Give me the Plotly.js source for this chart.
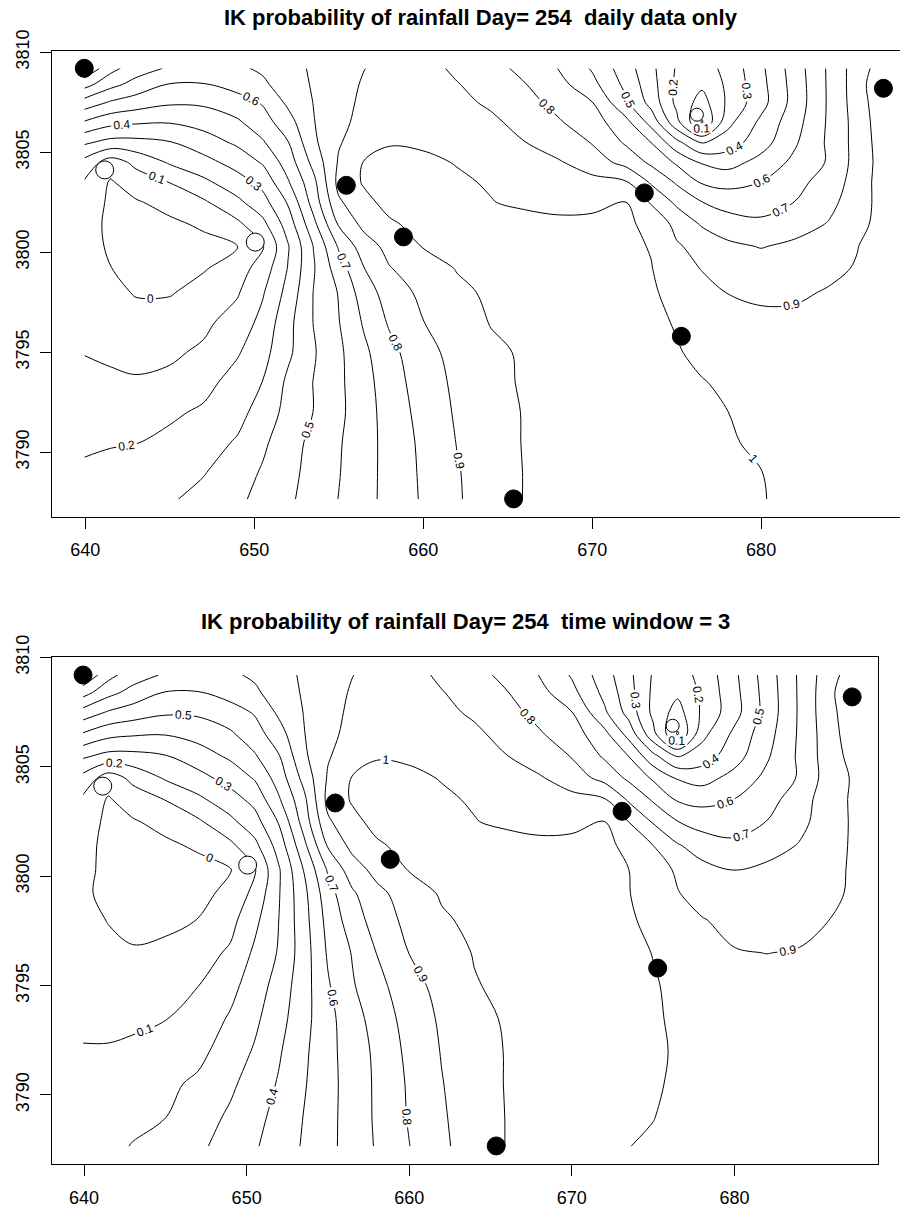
<!DOCTYPE html>
<html>
<head>
<meta charset="utf-8">
<script src="https://cdn.plot.ly/plotly-3.0.1.min.js"></script>
<style>html,body{margin:0;padding:0;background:#fff;}#chart{width:900px;height:1211px;}</style>
</head>
<body>
<div id="chart"></div>
<script>
// ---- grid coordinates (km) ----
const xGrid = [639.94, 641.5, 643, 645, 647, 649, 650.5, 652, 653.5, 655, 656.5, 658, 660, 662, 664, 666, 668, 670, 672, 673.5, 675, 676.5, 678, 680, 682, 684, 685.7, 687.24];
const yGrid = [3787.65, 3789, 3790.5, 3792, 3793.5, 3795, 3796.5, 3798, 3799.2, 3800.3, 3801.4, 3802.5, 3803.5, 3804.5, 3805.5, 3806.5, 3807.5, 3808.4, 3809.2];

// ---- IK probability, daily data only (rows follow yGrid, columns follow xGrid) ----
const zDaily = [
 [0.225,0.245,0.265,0.29,0.33,0.382,0.428,0.483,0.541,0.602,0.668,0.73,0.812,0.889,0.957,1.003,1.006,1.007,1.007,1.006,1.005,1.004,1.003,1.001,0.995,0.99,0.987,0.985],
 [0.21,0.228,0.246,0.27,0.294,0.355,0.41,0.471,0.533,0.595,0.665,0.731,0.816,0.893,0.954,1.003,1.01,1.012,1.012,1.01,1.008,1.005,1.003,1.0005,0.99,0.985,0.982,0.98],
 [0.19,0.193,0.197,0.221,0.262,0.309,0.382,0.457,0.526,0.59,0.663,0.732,0.822,0.903,0.96,1.005,1.015,1.02,1.02,1.015,1.012,1.008,1.003,0.995,0.985,0.98,0.978,0.975],
 [0.158,0.16,0.168,0.185,0.214,0.271,0.338,0.434,0.501,0.578,0.66,0.74,0.835,0.912,0.964,1.005,1.02,1.025,1.025,1.02,1.015,1.008,1.0005,0.99,0.98,0.975,0.97,0.97],
 [0.125,0.116,0.107,0.12,0.17,0.238,0.302,0.42,0.502,0.58,0.665,0.752,0.85,0.92,0.974,1.01,1.025,1.03,1.03,1.025,1.015,1.003,0.99,0.975,0.965,0.96,0.96,0.96],
 [0.097,0.085,0.08,0.085,0.115,0.19,0.265,0.38,0.49,0.58,0.68,0.77,0.867,0.932,0.983,1.01,1.03,1.035,1.03,1.02,1.005,0.985,0.965,0.95,0.945,0.945,0.945,0.95],
 [0.08,0.06,0.05,0.06,0.08,0.14,0.23,0.37,0.502,0.596,0.712,0.812,0.898,0.953,1.004,1.025,1.04,1.04,1.03,1.015,0.995,0.96,0.935,0.915,0.915,0.92,0.93,0.94],
 [0.07,0.035,-0.01,-0.01,0.045,0.09,0.19,0.333,0.502,0.606,0.752,0.845,0.925,0.98,1.015,1.035,1.045,1.04,1.025,1.01,0.975,0.935,0.898,0.888,0.89,0.905,0.92,0.935],
 [0.055,0.002,-0.03,-0.035,-0.01,0.055,0.143,0.305,0.49,0.653,0.798,0.895,0.953,1.005,1.03,1.045,1.05,1.04,1.02,1.003,0.945,0.895,0.875,0.85,0.86,0.885,0.905,0.93],
 [0.06,-0.02,-0.04,-0.04,-0.03,-0.005,0.09,0.292,0.502,0.712,0.852,0.932,1.005,1.04,1.05,1.05,1.05,1.04,1.02,0.995,0.91,0.87,0.82,0.795,0.82,0.86,0.898,0.94],
 [0.06,-0.03,-0.04,-0.02,0.015,0.078,0.172,0.345,0.57,0.81,0.928,0.986,1.03,1.05,1.05,1.04,1.03,1.03,1.02,0.97,0.874,0.79,0.75,0.73,0.76,0.806,0.867,0.94],
 [0.07,-0.02,-0.01,0.034,0.085,0.177,0.262,0.41,0.64,0.885,0.973,1.03,1.04,1.02,1.004,0.98,0.96,0.97,1.0005,0.89,0.78,0.702,0.66,0.64,0.702,0.774,0.85,0.94],
 [0.09,-0.01,0.05,0.102,0.178,0.258,0.33,0.49,0.67,0.93,1.01,1.03,1.03,1.015,0.99,0.97,0.95,0.93,0.91,0.787,0.688,0.59,0.57,0.602,0.666,0.748,0.84,0.95],
 [0.168,0.05,0.125,0.212,0.267,0.338,0.41,0.547,0.73,0.91,1.005,1.02,1.02,0.995,0.97,0.94,0.91,0.85,0.767,0.68,0.585,0.49,0.46,0.534,0.624,0.71,0.84,0.94],
 [0.317,0.27,0.272,0.295,0.353,0.418,0.49,0.596,0.78,0.892,0.95,0.995,0.985,0.97,0.94,0.902,0.848,0.795,0.686,0.598,0.427,0.29,0.348,0.456,0.587,0.717,0.838,0.95],
 [0.49,0.43,0.412,0.405,0.436,0.486,0.555,0.66,0.795,0.875,0.93,0.955,0.96,0.945,0.92,0.866,0.81,0.747,0.63,0.464,0.23,-0.01,0.27,0.422,0.562,0.714,0.84,0.96],
 [0.66,0.59,0.553,0.515,0.517,0.557,0.61,0.72,0.802,0.865,0.92,0.95,0.95,0.925,0.884,0.832,0.771,0.702,0.517,0.363,0.175,0.06,0.215,0.363,0.54,0.713,0.85,0.97],
 [0.84,0.732,0.665,0.595,0.595,0.64,0.684,0.746,0.81,0.859,0.91,0.94,0.94,0.905,0.854,0.804,0.733,0.63,0.474,0.339,0.18,0.12,0.217,0.37,0.542,0.714,0.853,0.99],
 [0.995,0.832,0.749,0.687,0.66,0.686,0.714,0.766,0.813,0.855,0.898,0.93,0.94,0.879,0.831,0.775,0.698,0.59,0.445,0.325,0.19,0.155,0.228,0.38,0.55,0.715,0.852,0.95]
];

// ---- IK probability, time window = 3 ----
const zWindow3 = [
 [0.16,0.18,0.204,0.243,0.282,0.338,0.39,0.448,0.509,0.574,0.641,0.709,0.798,0.88,0.953,1.003,1.005,1.005,1.003,1.0005,0.995,0.988,0.98,0.973,0.968,0.965,0.964,0.966],
 [0.15,0.165,0.18,0.198,0.256,0.315,0.37,0.432,0.502,0.571,0.643,0.714,0.808,0.888,0.955,1.003,1.01,1.012,1.01,1.005,1.001,0.99,0.98,0.972,0.966,0.962,0.962,0.965],
 [0.13,0.14,0.155,0.18,0.217,0.283,0.343,0.41,0.49,0.568,0.643,0.715,0.813,0.896,0.958,1.005,1.015,1.02,1.015,1.01,1.004,0.995,0.98,0.97,0.962,0.958,0.958,0.962],
 [0.105,0.105,0.11,0.133,0.173,0.248,0.31,0.39,0.48,0.57,0.648,0.72,0.825,0.905,0.961,1.005,1.02,1.025,1.02,1.015,1.008,0.995,0.975,0.962,0.955,0.95,0.952,0.96],
 [0.085,0.085,0.09,0.097,0.144,0.21,0.28,0.365,0.465,0.57,0.66,0.74,0.84,0.915,0.972,1.01,1.025,1.03,1.025,1.018,1.008,0.99,0.97,0.955,0.945,0.94,0.945,0.955],
 [0.07,0.065,0.065,0.075,0.098,0.172,0.247,0.343,0.456,0.59,0.69,0.77,0.86,0.935,0.994,1.02,1.03,1.035,1.03,1.02,1.006,0.985,0.96,0.94,0.93,0.93,0.935,0.95],
 [0.05,0.03,0.01,0.03,0.06,0.114,0.218,0.31,0.45,0.612,0.706,0.802,0.902,0.956,1.005,1.025,1.04,1.04,1.035,1.02,0.998,0.97,0.935,0.905,0.899,0.905,0.92,0.94],
 [0.04,-0.005,-0.03,-0.03,0.002,0.069,0.175,0.302,0.46,0.633,0.75,0.844,0.929,0.988,1.02,1.035,1.045,1.04,1.03,1.01,0.98,0.945,0.905,0.875,0.865,0.875,0.898,0.93],
 [0.02,-0.03,-0.045,-0.045,-0.03,0.028,0.128,0.295,0.47,0.66,0.785,0.872,0.95,1.01,1.03,1.045,1.05,1.04,1.025,1.003,0.96,0.905,0.865,0.84,0.835,0.85,0.88,0.91],
 [0.03,-0.03,-0.045,-0.045,-0.035,-0.005,0.09,0.292,0.502,0.712,0.852,0.932,1.005,1.04,1.05,1.05,1.05,1.04,1.02,1.0005,0.95,0.885,0.83,0.797,0.82,0.855,0.87,0.91],
 [0.035,-0.03,-0.04,-0.02,0.015,0.078,0.172,0.345,0.57,0.81,0.928,0.986,1.03,1.05,1.05,1.04,1.03,1.03,1.02,0.98,0.9005,0.81,0.755,0.73,0.76,0.806,0.855,0.91],
 [0.045,-0.02,-0.01,0.034,0.085,0.177,0.262,0.41,0.64,0.885,0.973,1.03,1.04,1.02,1.004,0.98,0.96,0.97,1.0005,0.898,0.79,0.702,0.66,0.64,0.702,0.774,0.845,0.91],
 [0.08,-0.01,0.05,0.102,0.178,0.258,0.33,0.49,0.67,0.93,1.01,1.03,1.03,1.015,0.99,0.97,0.95,0.93,0.91,0.787,0.688,0.59,0.57,0.602,0.666,0.748,0.855,0.91],
 [0.168,0.05,0.125,0.212,0.267,0.338,0.41,0.547,0.73,0.91,1.005,1.02,1.02,0.995,0.97,0.94,0.91,0.85,0.767,0.68,0.585,0.49,0.46,0.534,0.624,0.71,0.84,0.908],
 [0.317,0.27,0.272,0.295,0.353,0.418,0.49,0.596,0.78,0.892,0.95,0.995,0.985,0.97,0.94,0.902,0.848,0.795,0.686,0.598,0.427,0.29,0.348,0.456,0.587,0.717,0.845,0.93],
 [0.49,0.43,0.412,0.405,0.436,0.486,0.555,0.66,0.795,0.875,0.93,0.955,0.96,0.945,0.92,0.866,0.81,0.747,0.63,0.464,0.23,-0.01,0.27,0.422,0.562,0.714,0.85,0.95],
 [0.66,0.59,0.553,0.515,0.517,0.557,0.61,0.72,0.802,0.865,0.92,0.95,0.95,0.925,0.884,0.832,0.771,0.702,0.517,0.363,0.175,0.06,0.215,0.363,0.54,0.713,0.86,0.96],
 [0.84,0.732,0.665,0.595,0.595,0.64,0.684,0.746,0.81,0.859,0.91,0.94,0.94,0.905,0.854,0.804,0.733,0.63,0.474,0.339,0.18,0.12,0.217,0.37,0.542,0.714,0.86,0.99],
 [0.995,0.832,0.749,0.687,0.66,0.686,0.714,0.766,0.813,0.855,0.898,0.93,0.94,0.879,0.831,0.775,0.698,0.59,0.445,0.325,0.19,0.155,0.228,0.38,0.55,0.715,0.85,0.95]
];

// ---- rain gauge stations (1 = rain, 0 = no rain) ----
const stationX = [639.94, 641.15, 650.06, 655.45, 658.83, 665.35, 673.09, 675.28, 676.2, 687.24];
const stationY = [3809.2, 3804.12, 3800.51, 3803.35, 3800.77, 3787.67, 3802.97, 3795.8, 3806.88, 3808.2];
const stationRain = [1, 0, 0, 1, 1, 1, 1, 1, 0, 1];

// ---- text ----
const titles = ['IK probability of rainfall Day= 254\u00a0 daily data only', 'IK probability of rainfall Day= 254\u00a0 time window = 3'];
const xTicks = [640, 650, 660, 670, 680];
const yTicks = [3790, 3795, 3800, 3805, 3810];

const FONT = 'Liberation Sans, Arial, Helvetica, sans-serif';
// marker diameter (px); the gauge inside the low-probability pocket is drawn smaller in the original
const MARKER_PX = 18, SMALL_MARKER_PX = 13, SMALL_MARKER_INDEX = 8;

function contourTrace(z, xa, ya) {
  return {
    type: 'contour', x: xGrid, y: yGrid, z: z, xaxis: xa, yaxis: ya,
    autocontour: false,
    contours: {start: 0, end: 1, size: 0.1, coloring: 'none', showlabels: true,
               labelfont: {family: FONT, size: 12, color: 'black'}},
    line: {color: 'black', width: 1, smoothing: 1},
    showscale: false, hoverinfo: 'skip'
  };
}
function stationTrace(xa, ya) {
  return {
    type: 'scatter', mode: 'markers', x: stationX, y: stationY, xaxis: xa, yaxis: ya,
    marker: {size: stationX.map((_, i) => i === SMALL_MARKER_INDEX ? SMALL_MARKER_PX : MARKER_PX),
             opacity: 1,
             color: stationRain.map(r => r ? 'black' : 'white'),
             line: {color: 'black', width: 1}},
    hoverinfo: 'skip', cliponaxis: false
  };
}

const data = [
  contourTrace(zDaily, 'x', 'y'), stationTrace('x', 'y'),
  contourTrace(zWindow3, 'x2', 'y2'), stationTrace('x2', 'y2')
];

const H = 1211, W = 900;
function xAx(domain, range, anchor) {
  return {domain: domain, range: range, anchor: anchor, tickvals: xTicks, ticks: 'outside', ticklen: 11,
          tickwidth: 1, tickcolor: 'black', showline: true, linecolor: 'black', linewidth: 1, mirror: true,
          showgrid: false, zeroline: false, tickfont: {family: FONT, size: 18, color: 'black'}, ticklabelstandoff: 6};
}
function yAx(domain, range, anchor, mirror) {
  return {domain: domain, range: range, anchor: anchor, tickvals: yTicks, ticks: 'outside', ticklen: 11,
          tickwidth: 1, tickcolor: 'black', showline: true, linecolor: 'black', linewidth: 1, mirror: mirror,
          showgrid: false, zeroline: false, tickangle: -90, tickfont: {family: FONT, size: 18, color: 'black'}, ticklabelstandoff: 4};
}

const layout = {
  width: W, height: H, margin: {l: 0, r: 0, t: 0, b: 0},
  paper_bgcolor: 'white', plot_bgcolor: 'white', showlegend: false,
  font: {family: FONT, color: 'black'},
  xaxis: xAx([52 / W, 1], [638.03, 688.22], 'y'),
  yaxis: yAx([(H - 516.7) / H, (H - 51) / H], [3786.78, 3810.065], 'x', false),
  xaxis2: xAx([52 / W, 877.7 / W], [638.03, 688.81], 'y2'),
  yaxis2: yAx([(H - 1164) / H, (H - 657.3) / H], [3786.845, 3810.01], 'x2', true),
  annotations: [
    {text: '<b>' + titles[0] + '</b>', xref: 'paper', yref: 'paper', x: 481 / W, y: 1 - 18 / H,
     xanchor: 'center', yanchor: 'middle', showarrow: false, font: {family: FONT, size: 22, color: 'black'}},
    {text: '<b>' + titles[1] + '</b>', xref: 'paper', yref: 'paper', x: 465 / W, y: 1 - 621 / H,
     xanchor: 'center', yanchor: 'middle', showarrow: false, font: {family: FONT, size: 22, color: 'black'}}
  ]
};

Plotly.newPlot('chart', data, layout, {staticPlot: true, displayModeBar: false});
</script>
</body>
</html>
